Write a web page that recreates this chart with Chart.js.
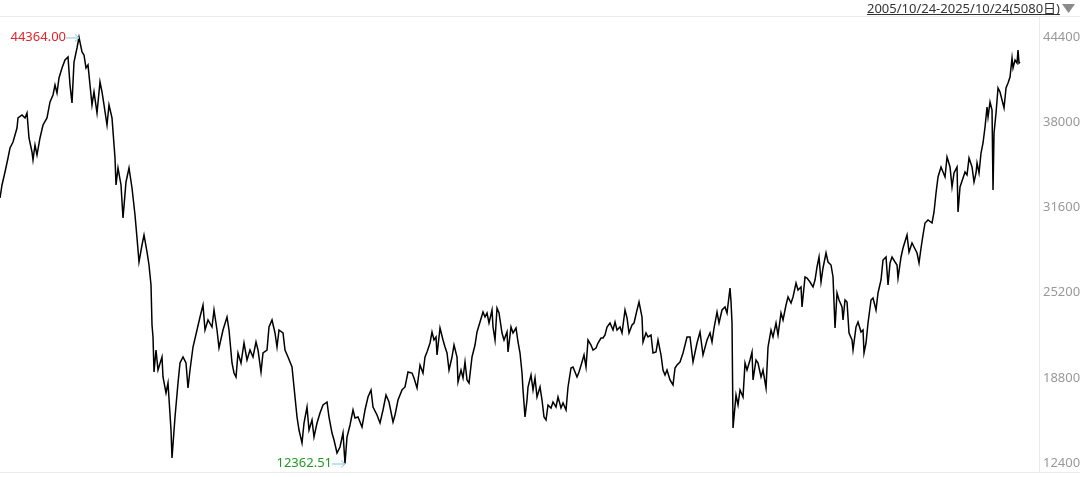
<!DOCTYPE html>
<html>
<head>
<meta charset="utf-8">
<script src="https://cdn.jsdelivr.net/npm/chart.js@4.4.1/dist/chart.umd.min.js"></script>
<style>
  html, body { margin: 0; padding: 0; background: #fff; }
  #wrap { width: 1080px; height: 477px; position: relative; }
</style>
</head>
<body>
<div id="wrap"><canvas id="chart"></canvas></div>
<script>
// range shown in the header
const startDate = '2005/10/24';
const endDate = '2025/10/24';
const spanDays = 5080;

// right axis
const yTicks = [12400, 18800, 25200, 31600, 38000, 44400];
const yMin = 11725;
const yMax = 45900;

// trading-day index of each sampled close
const days = [
  0,10,25,40,50, 65,85,90,110,125, 135,145,160,165,175, 185,200,215,235,250,
  265,275,285,295,310, 325,340,350,360,370, 385,395,410,420,430, 440,450,460,470,485,
  500,510,520,535,545, 560,575,580,590,605, 615,630,645,660,675, 685,695,710,720,735,
  745,755,760,
  765,770,780,790,810, 815,830,840,855,860, 875,890,900,915,930, 940,950,965,985,1000,
  1015,1025,1040,1060,1070, 1085,1095,1115,1135,1145, 1160,1170,1180,1190,1205,
  1220,1235,1250,1265,1280, 1290,1305,1315,1335,1345, 1360,1375,1385,1395,1415,
  1425,1440,1460,1470,1485, 1495,1510,1520,1535,1545, 1560,1570,1585,1600,1615,
  1635,1645,1660,1670,1685, 1700,1715,1725,1735,1750,
  1765,1775,1790,1810,1825, 1840,1855,1865,1885,1900, 1915,1930,1945,1965,1975,
  1990,2010,2025,2040,2060, 2070,2085,2100,2115,2125, 2135,2150,2160,2170,2180,
  2185,2200,2215,2225,2235, 2245,2260,2270,2285,2290, 2305,2315,2325,2335,2345,
  2360,2375,2385,2400,2415, 2425,2435,2445,2460,2465, 2475,2485,2495,2510,2520,
  2535,2540,2555,2565,2580, 2590,2600,2610,2615,2625, 2635,2640,2655,2665,2675,
  2685,2700,2710,2720,2730, 2740,2755,2765,2780,2790, 2805,2815,2830,2840,2855,
  2865,2885,2895,2910,2920, 2930,2940,2955,2965,2980, 2990,3005,3015,3025,3035,
  3050,3065,3075,3085,3100, 3110,3125,3135,3145,3160, 3170,3185,3195,3210,3215,
  3230,3240,3255,3265,3280, 3290,3305,3315,3325,3335, 3350,3365,3375,3385,3400,
  3415,3435,
  3450,3465,3485,3500,3515, 3535,3550,3560,3570,3585, 3595,3610,3625,3635,3650,
  3655,3660,3665,3680,3690, 3700,3715,3725,3735,3750, 3760,3765,3780,3790,3805,
  3815,3830,3840,3855,3865, 3880,3890,3905,3915,3930, 3940,3955,3965,3980,3990,
  4005,4010,4025,4035,4050, 4065,4075,4085,4095,4105, 4115,4130,4140,4155,4165,
  4175,4185,4195,4210,4215, 4225,4235,4245,4260,4265, 4280,4290,4305,4315,4320,
  4330,4340,4355,4365,4380, 4390,4405,4415,4430,4440, 4450,4460,4475,4485,4490,
  4505,4515,4535,4545,4560, 4570,4585,4595,4605,4615, 4625,4640,4660,4670,4680,
  4690,4705,4715,4725,4735, 4750,4760,4770,4785,4790, 4800,4815,4825,4835,4845,
  4860,4870,4880,4885,4895, 4905,4915,4925,4935,4940, 4950,4960,4965,4970,4980,
  4990,5000,5010,5020,5030, 5040,5050,5060,5065,5075, 5085,5090,5095,5100
];

// closing values, same order as days
const closes = [
  32306,33282,34259,35311,36062, 36512,37564,38315,38541,38315, 38691,36813,35761,35160,36287,
  35536,36813,37789,38315,39517, 40043,40794,40193,41320,42071, 42672,42897,40794,39442,42522,
  43573,44364,43273,43048,42071, 42296,40794,39292,40268,38691, 41019,40268,39292,37789,39292,
  38315,35311,33282,34559,33282, 30803,33508,34559,33057,31029, 29301,27498,28775,29527,28250,
  27273,25771,22766,
  21865,19235,20888,19386,20362, 18860,17658,18409,14879,12775, 15855,18409,19912,20362,19912,
  18034,19386,21113,22390,23367, 24268,22390,23142,22616,23893, 22390,21038,22390,23367,22390,
  19912,19160,18860,20663,19912, 21414,20137,20888,20362,21489, 20888,19235,20663,20888,22616,
  23142,22165,21113,22390,22165, 20888,20362,19611,18109,15855, 14879,13902,15405,16606,14879,
  15630,14353,15405,16156,16757, 16982,15855,14653,14128,13151, 13602,14653,12362.51,14353,15254,
  16381,15780,15855,15104,16381, 17358,17883,16606,16005,15405, 16381,17508,16982,15480,16005,
  17132,17883,18109,19235,19160, 18785,18034,19761,19160,20362, 20738,21414,22240,21639,21865,
  20512,22541,21639,21113,20663, 19386,20362,21264,20362,18484, 19386,18785,19987,18635,18409,
  20362,21264,22240,22991,23742, 23367,23667,22916,23893,22616, 21639,24043,23667,22165,21639,
  22240,20738,22616,22165,22541, 21489,20663,19160,17883,15855, 17132,18109,19010,17883,18785,
  17358,18109,17132,15855,15630, 16757,16531,16982,16606,17358, 16531,16907,16381,18109,19536,
  19611,18860,19235,19987,20512, 19611,21639,21264,20888,21038, 21414,21789,21789,22015,22616,
  22916,22390,22991,22390,22616, 22165,23893,23292,22165,22766, 22916,23893,24494,23367,21489,
  22165,21865,22015,20663,20738, 21639,20512,19386,19010,19386, 18635,18259,19536,19761,19987,
  20663,21865,
  21865,19987,21414,22240,20512, 21639,22165,21489,22541,23742, 22916,23893,24118,23667,25545,
  24500,22916,15029,17508,16757, 17883,17358,19912,19386,20137, 20738,18635,20137,19912,18860,
  19386,18034,21113,22390,21865, 22916,22015,23667,23142,24268, 24869,24419,24869,25921,25395,
  25620,24118,26372,26296,25996, 25620,26146,27123,27874,25996, 27048,28174,27498,27273,26372,
  22541,25170,24644,24118,23142, 24644,24494,22165,21639,20888, 22616,22991,22240,22390,20663,
  21414,22916,24644,24794,23893, 25170,26146,27649,27874,25771, 27423,27874,27498,27273,26296,
  27874,28550,29527,28250,28926, 28625,28174,27423,28550,29527, 30428,30653,30428,31254,32681,
  33883,34634,34259,33883,35386, 34634,33132,34184,34634,31254, 33132,33808,34259,34034,35311,
  34634,33508,34184,34935,34184, 35686,36437,37639,39141,38390, 39517,38916,32907,37188,38691,
  40569,40268,39667,39066,40569, 40944,41395,42822,42071,42672, 42447,43423,42447,42522
];

const FONT = '"Noto Sans", "Noto Sans CJK SC", sans-serif';

const points = days.map((d, i) => ({ x: d, y: closes[i] }));

function drawMark(ctx, px, py, text, color) {
  ctx.save();
  ctx.font = '13px ' + FONT;
  ctx.fillStyle = color;
  ctx.textAlign = 'right';
  ctx.textBaseline = 'middle';
  ctx.fillText(text, px - 13, py);
  ctx.strokeStyle = '#86c5de';
  ctx.lineWidth = 1;
  ctx.beginPath();
  ctx.moveTo(px - 13, py + 0.5);
  ctx.lineTo(px, py + 0.5);
  ctx.moveTo(px - 4, py - 3);
  ctx.lineTo(px, py + 0.5);
  ctx.lineTo(px - 4, py + 4);
  ctx.stroke();
  ctx.restore();
}

const extras = {
  id: 'extras',
  beforeDraw(chart) {
    const { ctx, chartArea, width } = chart;
    ctx.save();
    ctx.fillStyle = '#fff';
    ctx.fillRect(0, 0, width, chart.height);
    ctx.strokeStyle = '#ebebeb';
    ctx.lineWidth = 1;
    ctx.beginPath();
    ctx.moveTo(0, Math.round(chartArea.top) - 0.5);
    ctx.lineTo(width, Math.round(chartArea.top) - 0.5);
    ctx.moveTo(0, Math.round(chartArea.bottom) + 0.5);
    ctx.lineTo(width, Math.round(chartArea.bottom) + 0.5);
    ctx.stroke();
    ctx.restore();
  },
  afterDraw(chart) {
    const { ctx } = chart;
    const xs = chart.scales.x, ys = chart.scales.y;

    // header text with underline and drop-down triangle
    const title = startDate + '-' + endDate + '(' + spanDays + '日)';
    ctx.save();
    ctx.font = '13px ' + FONT;
    ctx.fillStyle = '#333';
    ctx.textAlign = 'right';
    ctx.textBaseline = 'alphabetic';
    const right = 1060;
    ctx.fillText(title, right, 13);
    const w = ctx.measureText(title).width;
    ctx.fillRect(right - w, 14, w, 1);
    ctx.fillStyle = '#8a8a8a';
    ctx.beginPath();
    ctx.moveTo(1062, 4);
    ctx.lineTo(1075, 4);
    ctx.lineTo(1068.5, 13);
    ctx.closePath();
    ctx.fill();
    ctx.restore();

    // highest and lowest close
    let hi = 0, lo = 0;
    closes.forEach((v, i) => {
      if (v > closes[hi]) hi = i;
      if (v < closes[lo]) lo = i;
    });
    drawMark(ctx, xs.getPixelForValue(days[hi]), ys.getPixelForValue(closes[hi]),
      closes[hi].toFixed(2), '#e0262a');
    drawMark(ctx, xs.getPixelForValue(days[lo]), ys.getPixelForValue(closes[lo]),
      closes[lo].toFixed(2), '#1f9a23');
  }
};

new Chart(document.getElementById('chart'), {
  type: 'line',
  data: {
    datasets: [{
      data: points,
      borderColor: '#000',
      borderWidth: 1.5,
      pointRadius: 0,
      tension: 0,
      fill: false
    }]
  },
  options: {
    responsive: true,
    maintainAspectRatio: false,
    animation: false,
    devicePixelRatio: 1,
    layout: { padding: { top: 17, bottom: 5, left: 0, right: 0 } },
    plugins: { legend: { display: false }, tooltip: { enabled: false } },
    scales: {
      x: {
        type: 'linear',
        display: false,
        min: 0,
        max: days[days.length - 1] * 1.0186
      },
      y: {
        position: 'right',
        min: yMin,
        max: yMax,
        afterBuildTicks: s => { s.ticks = yTicks.map(v => ({ value: v })); },
        afterFit: s => { s.width = 41; s.paddingTop = 0; s.paddingBottom = 0; },
        grid: { display: false, drawTicks: false },
        border: { display: true, color: '#ebebeb', width: 1 },
        ticks: {
          padding: 4,
          color: '#999',
          font: { family: FONT, size: 13 },
          callback: v => String(v)
        }
      }
    }
  },
  plugins: [extras]
});
</script>
</body>
</html>
